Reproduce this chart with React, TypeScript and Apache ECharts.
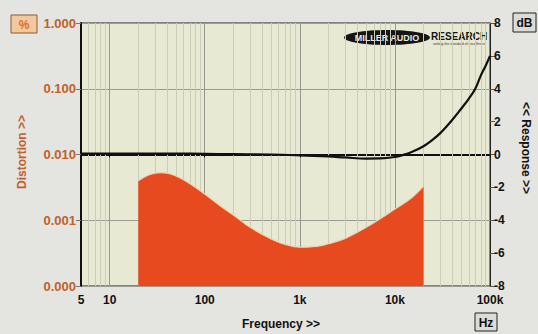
import React, { useEffect, useRef } from 'react';
import * as echarts from 'echarts';

// Frequency response (dB, right axis)
const respFreq = [5, 10, 20, 50, 100, 200, 500, 1000, 2000, 3000, 5000, 7000, 10000, 12000, 15000, 20000, 25000, 30000, 40000, 50000, 60000, 70000, 80000, 90000, 100000];
const respDb = [0.05, 0.05, 0.05, 0.05, 0.04, 0.02, 0, -0.05, -0.12, -0.18, -0.25, -0.24, -0.15, -0.04, 0.15, 0.5, 0.9, 1.3, 2.1, 2.8, 3.4, 4.0, 4.8, 5.4, 6.0];

// Distortion (%, left log axis)
const distFreq = [20, 25, 30, 35, 40, 50, 70, 100, 150, 200, 300, 500, 700, 1000, 1500, 2000, 3000, 5000, 7000, 10000, 15000, 20000];
const distPct = [0.004, 0.0048, 0.0052, 0.0053, 0.0052, 0.0047, 0.0036, 0.0025, 0.0016, 0.0012, 0.00078, 0.00052, 0.00043, 0.00039, 0.0004, 0.00044, 0.00053, 0.00078, 0.00105, 0.00148, 0.0022, 0.0033];

// Axis ranges
const freqMin = 5;
const freqMax = 100000;
const distMin = 0.0001;
const distMax = 1;
const dbMin = -8;
const dbMax = 8;
const dbStep = 2;

// Minor vertical grid positions (2..9 per decade)
const decades = [1, 10, 100, 1000, 10000];
const minorMultipliers = [2, 3, 4, 5, 6, 7, 8, 9];

const FONT = 'Liberation Sans, Arial, sans-serif';

export default function App() {
  const ref = useRef<HTMLDivElement>(null);
  useEffect(() => {
    const chart = echarts.init(ref.current!, null, { renderer: 'svg' });
    const minorLines: number[] = [];
    decades.forEach((d) => minorMultipliers.forEach((m) => {
      const v = d * m;
      if (v > freqMin && v < freqMax) minorLines.push(v);
    }));
    const fmtFreq = (v: number) => {
      const r = Math.round(v);
      if (r >= 1000) return r / 1000 + 'k';
      return String(r);
    };
    chart.setOption({
      animation: false,
      backgroundColor: '#e4e4e0',
      grid: {
        left: 81, right: 48, top: 23, bottom: 48,
        show: true, backgroundColor: '#e8e9d2', borderColor: '#222', borderWidth: 1,
      },
      xAxis: {
        type: 'log', logBase: 10, min: freqMin, max: freqMax,
        axisLine: { show: true, lineStyle: { color: '#111', width: 2 } },
        axisTick: { show: true, length: 3, lineStyle: { color: '#111' } },
        axisLabel: { interval: 0, color: '#111', fontWeight: 'bold', fontSize: 12, fontFamily: FONT, margin: 8, formatter: fmtFreq },
        splitLine: { show: true, lineStyle: { color: '#969890', width: 1 } },
      },
      yAxis: [
        {
          type: 'log', logBase: 10, min: distMin, max: distMax, position: 'left',
          axisLine: { show: true, lineStyle: { color: '#111', width: 2 } },
          axisTick: { show: true, length: 5, lineStyle: { color: '#777' } },
          axisLabel: { color: '#c0602c', fontWeight: 'bold', fontSize: 13, fontFamily: FONT, margin: 5, formatter: (v: number) => Number(v).toFixed(3) },
          splitLine: { show: true, lineStyle: { color: '#9a9c92', width: 1 } },
        },
        {
          type: 'value', min: dbMin, max: dbMax, interval: dbStep, position: 'right',
          axisLine: { show: true, lineStyle: { color: '#222', width: 1 } },
          axisTick: { show: true, length: 5, lineStyle: { color: '#555' } },
          axisLabel: { color: '#111', fontWeight: 'bold', fontSize: 12, fontFamily: FONT, margin: 4 },
          splitLine: { show: false },
        },
      ],
      series: [
        {
          type: 'line', data: [], z: 1, silent: true,
          markLine: {
            silent: true, symbol: 'none', z: 1, animation: false,
            label: { show: false },
            lineStyle: { color: '#cbcdba', width: 1, type: 'solid' },
            data: minorLines.map((v) => ({ xAxis: v })),
          },
        },
        {
          name: 'Distortion', type: 'line', yAxisIndex: 0, z: 3,
          data: distFreq.map((f, i) => [f, distPct[i]]),
          smooth: 0.4, showSymbol: false,
          lineStyle: { color: '#f3d2ae', width: 1.2 },
          areaStyle: { color: '#e84a1f', opacity: 1, origin: 'start' },
        },
        {
          name: 'Response', type: 'line', yAxisIndex: 1, z: 4,
          data: respFreq.map((f, i) => [f, respDb[i]]),
          smooth: 0.4, showSymbol: false,
          lineStyle: { color: '#111', width: 2.2 },
        },
      ],
      graphic: [
        { type: 'rect', shape: { x: 11, y: 15, width: 26, height: 18 }, style: { fill: '#f2c89c', stroke: '#8a5a3a', lineWidth: 1 } },
        { type: 'text', x: 24, y: 24.5, style: { text: '%', fill: '#d9702a', fontSize: 12, fontWeight: 'bold', fontFamily: FONT, align: 'center', verticalAlign: 'middle' } },
        { type: 'rect', shape: { x: 513, y: 13, width: 23, height: 19 }, style: { fill: '#dcdcd6', stroke: '#222', lineWidth: 1 } },
        { type: 'text', x: 524.5, y: 23, style: { text: 'dB', fill: '#111', fontSize: 12, fontWeight: 'bold', fontFamily: FONT, align: 'center', verticalAlign: 'middle' } },
        { type: 'rect', shape: { x: 475, y: 313, width: 22, height: 18 }, style: { fill: '#dcdcd6', stroke: '#222', lineWidth: 1 } },
        { type: 'text', x: 486, y: 322.5, style: { text: 'Hz', fill: '#111', fontSize: 12, fontWeight: 'bold', fontFamily: FONT, align: 'center', verticalAlign: 'middle' } },
        { type: 'text', x: 281, y: 324, style: { text: 'Frequency >>', fill: '#111', fontSize: 12, fontWeight: 'bold', fontFamily: FONT, align: 'center', verticalAlign: 'middle' } },
        { type: 'text', x: 22, y: 152, rotation: Math.PI / 2, style: { text: 'Distortion >>', fill: '#c0602c', fontSize: 12, fontWeight: 'bold', fontFamily: FONT, align: 'center', verticalAlign: 'middle' } },
        { type: 'text', x: 526, y: 148, rotation: -Math.PI / 2, style: { text: '<< Response >>', fill: '#111', fontSize: 12, fontWeight: 'bold', fontFamily: FONT, align: 'center', verticalAlign: 'middle' } },
        { type: 'ellipse', shape: { cx: 387, cy: 37.5, rx: 43, ry: 7.5 }, style: { fill: '#151515' } },
        { type: 'text', x: 387, y: 38, style: { text: 'MILLER AUDIO', fill: '#e8e8e0', fontSize: 9, fontWeight: 'bold', fontFamily: FONT, align: 'center', verticalAlign: 'middle' } },
        { type: 'text', x: 431, y: 36, style: { text: 'RESEARCH', fill: '#151515', fontSize: 10, fontWeight: 'bold', fontFamily: FONT, align: 'left', verticalAlign: 'middle' } },
        { type: 'text', x: 433, y: 43.5, style: { text: 'setting the standard of excellence', fill: '#333', fontSize: 3.5, fontFamily: FONT, align: 'left', verticalAlign: 'middle' } },
      ],
    });
    return () => chart.dispose();
  }, []);
  return <div ref={ref} style={{ position: 'fixed', left: 0, top: 0, width: 538, height: 334 }} />;
}
